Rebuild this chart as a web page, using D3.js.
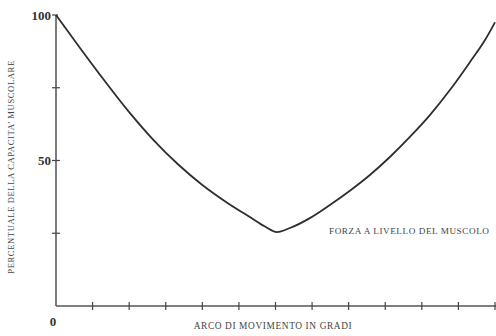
<!DOCTYPE html>
<html><head><meta charset="utf-8">
<script src="https://cdn.jsdelivr.net/npm/d3@7"></script>
<style>body{margin:0;background:#fff}svg{display:block}</style>
</head><body>
<script>
const degrees = [0, 10, 20, 30, 40, 50, 60, 70, 80, 85.5, 90.6, 95.9, 104.1, 112.3, 120.5, 128.7, 136.9, 145.1, 153.3, 161.5, 169.7, 175.9, 180];
const percent = [100, 88.5, 77.3, 66.6, 57.0, 48.7, 41.6, 35.6, 30.3, 27.4, 25.4, 26.8, 30.2, 34.7, 39.6, 45.0, 51.2, 58.1, 65.6, 74.2, 83.8, 91.4, 97.5];
const xTicks = [15, 30, 45, 60, 75, 90, 105, 120, 135, 150, 165, 180];
const yTicks = [25, 50, 75, 100];
const yTickLabels = {100: "100", 50: "50"};
const yTitle = "PERCENTUALE DELLA CAPACITA' MUSCOLARE";
const xTitle = "ARCO DI MOVIMENTO IN GRADI";
const curveLabel = "FORZA A LIVELLO DEL MUSCOLO";

const W = 496, H = 336;
const svg = d3.select("body").append("svg").attr("width", W).attr("height", H);
const x = d3.scaleLinear().domain([0, 180]).range([56, 495]);
const y = d3.scaleLinear().domain([0, 100]).range([306, 15]);
const ink = "#2e2e2e";
const serif = "'Liberation Serif','DejaVu Serif',serif";

// y axis
svg.append("line").attr("x1", x(0)).attr("x2", x(0)).attr("y1", y(0)).attr("y2", y(100))
  .attr("stroke", "#444").attr("stroke-width", 1.4);
svg.selectAll(".yt").data(yTicks).enter().append("line")
  .attr("x1", x(0) - 4).attr("x2", d => d === 100 ? x(0) + 2 : x(0) + 4)
  .attr("y1", d => y(d)).attr("y2", d => y(d))
  .attr("stroke", "#444").attr("stroke-width", 1.2);
svg.selectAll(".yl").data(yTicks.filter(d => yTickLabels[d])).enter().append("text")
  .attr("x", x(0) - 5).attr("y", d => y(d) + 4.5).attr("text-anchor", "end")
  .attr("font-family", serif).attr("font-weight", "bold").attr("font-size", 13)
  .attr("fill", "#333").text(d => yTickLabels[d]);

// x axis
svg.append("line").attr("x1", x(0)).attr("x2", W + 5).attr("y1", y(0)).attr("y2", y(0))
  .attr("stroke", "#555").attr("stroke-width", 1.6);
svg.selectAll(".xt").data(xTicks).enter().append("line")
  .attr("x1", d => x(d)).attr("x2", d => x(d)).attr("y1", y(0) - 4).attr("y2", y(0) + 4)
  .attr("stroke", "#444").attr("stroke-width", 1.2);
svg.append("text").attr("x", x(0) - 3).attr("y", 326).attr("text-anchor", "middle")
  .attr("font-family", serif).attr("font-weight", "bold").attr("font-size", 13)
  .attr("fill", "#333").text("0");

// titles
svg.append("text").attr("transform", "translate(14,167) rotate(-90)").attr("text-anchor", "middle")
  .attr("font-family", serif).attr("font-size", 8.6).attr("letter-spacing", 0.6)
  .attr("fill", "#444").text(yTitle);
svg.append("text").attr("x", 273).attr("y", 329).attr("text-anchor", "middle")
  .attr("font-family", serif).attr("font-size", 9.4).attr("letter-spacing", 0.6)
  .attr("fill", "#444").text(xTitle);
svg.append("text").attr("x", 329).attr("y", 234)
  .attr("font-family", serif).attr("font-size", 9.2).attr("letter-spacing", 0.55)
  .attr("fill", "#444").text(curveLabel);

// curve
const data = degrees.map((d, i) => ({d, p: percent[i]}));
svg.append("path").datum(data)
  .attr("d", d3.line().x(v => x(v.d)).y(v => y(v.p)).curve(d3.curveMonotoneX))
  .attr("fill", "none").attr("stroke", ink).attr("stroke-width", 1.8);
</script>
</body></html>
